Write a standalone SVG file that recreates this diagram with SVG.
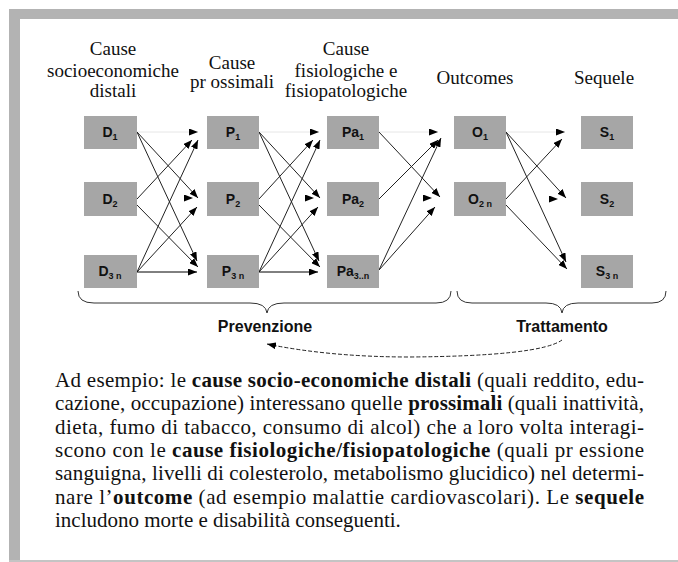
<svg xmlns="http://www.w3.org/2000/svg" width="678" height="562" viewBox="0 0 678 562">
<defs>
<marker id="ah" viewBox="0 0 9 7" refX="9" refY="3.5" markerWidth="9" markerHeight="7" markerUnits="userSpaceOnUse" orient="auto"><path d="M0,0 L9,3.5 L0,7 z" fill="#000"/></marker>
<style>
.box{fill:#a6a6a6}
.lbl{font-family:"Liberation Sans",Arial,sans-serif;font-weight:bold;font-size:14px;fill:#111;text-anchor:middle}
.sub{font-size:9px}
.hdr{font-family:"Liberation Serif","Times New Roman",serif;font-size:19px;fill:#111;text-anchor:middle}
.e{fill:none;stroke:#222;stroke-width:1;marker-end:url(#ah)}
.f{stroke:#e6e6e6}
.n{stroke:none}
.k{stroke:#000}
.br{fill:none;stroke:#333;stroke-width:1}
.bl{font-family:"Liberation Sans",Arial,sans-serif;font-weight:bold;font-size:16px;fill:#111;text-anchor:middle}
.body{font-family:"Liberation Serif","Times New Roman",serif;font-size:21px;fill:#111}
.b{font-weight:bold}
</style>
</defs>
<rect width="678" height="562" fill="#fff"/>
<g id="frame" fill="#b3b3b3">
<rect x="9" y="9" width="669" height="10"/>
<rect x="9" y="9" width="11" height="552"/>
<rect x="9" y="560" width="669" height="2" fill="#c4c4c4"/>
</g>
<g id="headers" class="hdr">
<text x="113" y="55">Cause</text>
<text x="113" y="77">socioeconomiche</text>
<text x="113" y="97">distali</text>
<text x="232" y="69">Cause</text>
<text x="232" y="88">pr ossimali</text>
<text x="346" y="55">Cause</text>
<text x="346" y="77">fisiologiche e</text>
<text x="346" y="97">fisiopatologiche</text>
<text x="475" y="84">Outcomes</text>
<text x="604" y="84">Sequele</text>
</g>
<g id="connectors">
<path class="e f" d="M137,132 L198,132"/>
<path class="e" d="M137,132 L198,198"/>
<path class="e" d="M137,132 L197,261"/>
<path class="e" d="M137,199 L192,140"/>
<path class="e n" d="M186,198 L193,198"/>
<path class="e" d="M137,205 L198,267"/>
<path class="e" d="M137,272 L198,140"/>
<path class="e" d="M137,272 L197,207"/>
<path class="e k" d="M137,272 L197,272"/>
<path class="e f" d="M259,132 L319,132"/>
<path class="e" d="M259,132 L320,198"/>
<path class="e" d="M259,132 L319,261"/>
<path class="e" d="M259,199 L313,140"/>
<path class="e n" d="M307,198 L314,198"/>
<path class="e" d="M259,205 L320,267"/>
<path class="e" d="M259,272 L320,140"/>
<path class="e" d="M259,272 L318,207"/>
<path class="e k" d="M259,272 L318,272"/>
<path class="e f" d="M379,132 L438,132"/>
<path class="e" d="M379,132 L440,197"/>
<path class="e" d="M379,199 L438,140"/>
<path class="e n" d="M425,198 L432,198"/>
<path class="e" d="M379,270 L441,138"/>
<path class="e" d="M379,270 L435,207"/>
<path class="e f" d="M506,132 L565,132"/>
<path class="e" d="M506,132 L566,198"/>
<path class="e" d="M506,132 L566,262"/>
<path class="e" d="M506,199 L562,139"/>
<path class="e n" d="M551,199 L558,199"/>
<path class="e" d="M506,205 L567,269"/>
<path class="br" d="M78,291 Q78,303 94,303 L250,303 Q266,303 267,313 Q268,303 284,303 L436,303 Q451,303 451,291"/>
<path class="br" d="M457,291 Q457,303 472,303 L546,303 Q561,303 562,313 Q563,303 578,303 L652,303 Q666,303 666,291"/>
<path class="e" stroke-dasharray="4 2" d="M562,340 Q540,356 410,357 Q330,357 267,344"/>
</g>
<g id="D1"><rect class="box" x="84" y="116" width="53" height="33"/><text class="lbl" x="110" y="137">D<tspan class="sub" dy="3">1</tspan></text></g>
<g id="D2"><rect class="box" x="84" y="182" width="53" height="34"/><text class="lbl" x="110" y="204">D<tspan class="sub" dy="3">2</tspan></text></g>
<g id="D3n"><rect class="box" x="84" y="255" width="53" height="33"/><text class="lbl" x="110" y="276">D<tspan class="sub" dy="3">3 n</tspan></text></g>
<g id="P1"><rect class="box" x="207" y="116" width="52" height="33"/><text class="lbl" x="233" y="137">P<tspan class="sub" dy="3">1</tspan></text></g>
<g id="P2"><rect class="box" x="207" y="182" width="52" height="34"/><text class="lbl" x="233" y="204">P<tspan class="sub" dy="3">2</tspan></text></g>
<g id="P3n"><rect class="box" x="207" y="255" width="52" height="33"/><text class="lbl" x="233" y="276">P<tspan class="sub" dy="3">3 n</tspan></text></g>
<g id="Pa1"><rect class="box" x="327" y="116" width="52" height="33"/><text class="lbl" x="353" y="137">Pa<tspan class="sub" dy="3">1</tspan></text></g>
<g id="Pa2"><rect class="box" x="327" y="182" width="52" height="34"/><text class="lbl" x="353" y="204">Pa<tspan class="sub" dy="3">2</tspan></text></g>
<g id="Pa3n"><rect class="box" x="327" y="255" width="52" height="33"/><text class="lbl" x="353" y="276">Pa<tspan class="sub" dy="3">3..n</tspan></text></g>
<g id="O1"><rect class="box" x="454" y="116" width="52" height="33"/><text class="lbl" x="480" y="137">O<tspan class="sub" dy="3">1</tspan></text></g>
<g id="O2n"><rect class="box" x="454" y="182" width="52" height="34"/><text class="lbl" x="480" y="204">O<tspan class="sub" dy="3">2 n</tspan></text></g>
<g id="S1"><rect class="box" x="581" y="116" width="52" height="33"/><text class="lbl" x="607" y="137">S<tspan class="sub" dy="3">1</tspan></text></g>
<g id="S2"><rect class="box" x="581" y="182" width="52" height="34"/><text class="lbl" x="607" y="204">S<tspan class="sub" dy="3">2</tspan></text></g>
<g id="S3n"><rect class="box" x="581" y="255" width="52" height="33"/><text class="lbl" x="607" y="276">S<tspan class="sub" dy="3">3 n</tspan></text></g>
<g id="labels">
<text class="bl" x="265" y="332">Prevenzione</text>
<text class="bl" x="562" y="332">Trattamento</text>
</g>
<g id="caption" class="body">
<text x="55" y="387" textLength="589" lengthAdjust="spacing">Ad esempio: le <tspan class="b">cause socio-economiche distali</tspan> (quali reddito, edu-</text>
<text x="55" y="410" textLength="589" lengthAdjust="spacing">cazione, occupazione) interessano quelle <tspan class="b">prossimali</tspan> (quali inattività,</text>
<text x="55" y="434" textLength="589" lengthAdjust="spacing">dieta, fumo di tabacco, consumo di alcol) che a loro volta interagi-</text>
<text x="55" y="457" textLength="589" lengthAdjust="spacing">scono con le <tspan class="b">cause fisiologiche/fisiopatologiche</tspan> (quali pr essione</text>
<text x="55" y="480" textLength="589" lengthAdjust="spacing">sanguigna, livelli di colesterolo, metabolismo glucidico) nel determi-</text>
<text x="55" y="504" textLength="589" lengthAdjust="spacing">nare l’<tspan class="b">outcome</tspan> (ad esempio malattie cardiovascolari). Le <tspan class="b">sequele</tspan></text>
<text x="55" y="527">includono morte e disabilità conseguenti.</text>
</g>
</svg>
